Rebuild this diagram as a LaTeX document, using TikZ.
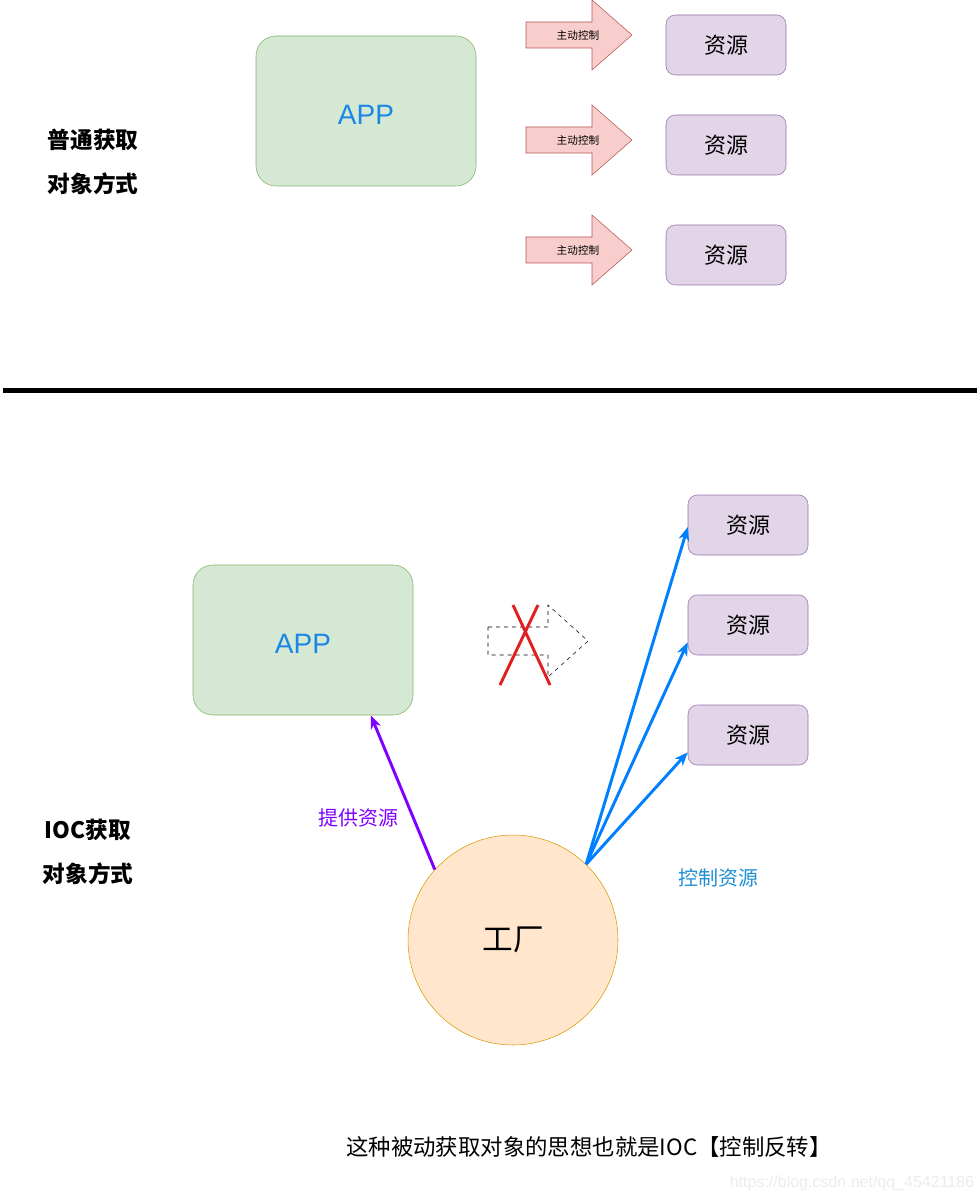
\documentclass[tikz,border=0pt]{standalone}
\usepackage{fontspec}
\setmainfont{Liberation Sans}
\newfontfamily\cjk{Noto Sans CJK SC}
\usetikzlibrary{arrows.meta}
\definecolor{appfill}{HTML}{D5E8D4}
\definecolor{appline}{HTML}{82B366}
\definecolor{resfill}{HTML}{E1D5E7}
\definecolor{resline}{HTML}{9673A6}
\definecolor{arrfill}{HTML}{F8CECC}
\definecolor{arrline}{HTML}{B85450}
\definecolor{facfill}{HTML}{FFE6CC}
\definecolor{facline}{HTML}{D79B00}
\definecolor{appblue}{HTML}{1A86E6}
\definecolor{ctlblue}{HTML}{007FFF}
\definecolor{ctltext}{HTML}{1E8FD6}
\definecolor{givepurple}{HTML}{7F00FF}
\definecolor{crossred}{HTML}{E02020}

\begin{document}
\begin{tikzpicture} [x = 0.75pt, y = -0.75pt,
    appbox/.style = {draw = appline, fill = appfill, rounded corners = 15pt, minimum width = 165pt, minimum height = 112.5pt, text = appblue, text height = 20pt, font = \fontsize{21}{25}\selectfont},
    resbox/.style = {draw = resline, fill = resfill, rounded corners = 7pt, minimum width = 90pt, minimum height = 45pt, font = \cjk\fontsize{16.5}{20}\selectfont},
    sidelabel/.style = {font = \cjk\bfseries\fontsize{17}{33}\selectfont, align = center},
    flow/.style = {line width = 2.2pt, -{Stealth[length = 10pt, width = 8pt, inset = 3pt]}}]
                \useasboundingbox (0,0) rectangle (980,1201);
                % normal way
                \node [sidelabel] (lab1) at (93, 162) {普通获取\\对象方式};
                \node [appbox] (app1) at (366, 111) {APP};
                \foreach \y/\r/\n in {35/45/1, 140/145/2, 250/255/3} {
                    \draw [arrline, fill = arrfill] (526,\y-13) -- (592,\y-13) -- (592,\y-35) -- (632,\y) -- (592,\y+35) -- (592,\y+13) -- (526,\y+13) -- cycle;
                    \node [font = \cjk\fontsize{8}{10}\selectfont] (ctl\n) at (578,\y) {主动控制};
                    \node [resbox] (res\n) at (726,\r) {资源};
                  }
                \draw [line width = 3.75pt] (3,390) -- (977,390);
                % IOC way
                \node [sidelabel] (lab2) at (88, 852) {IOC获取\\对象方式};
                \node [appbox] (app2) at (303, 640) {APP};
                \draw [black, dashed, thin] (488,627) -- (548,627) -- (548,605) -- (588,641) -- (548,677) -- (548,655) -- (488,655) -- cycle;
                \draw [crossred, line width = 2.2pt] (500,685) -- (538,605) (513,605) -- (550,685);
                \foreach \y/\n in {525/4, 625/5, 735/6}
                    \node [resbox] (res\n) at (748,\y) {资源};
                \node [circle, draw = facline, fill = facfill, minimum size = 157.5pt, font = \cjk\fontsize{23}{27}\selectfont] (fac) at (513, 940) {工厂};
                \draw [flow, givepurple] (fac.138) -- (app2.312);
                \node [text = givepurple, font = \cjk\fontsize{15}{18}\selectfont] (give) at (358, 818) {提供资源};
                \draw [flow, ctlblue] (fac.46) -- (res4.182);
                \draw [flow, ctlblue] (fac.46) -- (res5.196);
                \draw [flow, ctlblue] (fac.46) -- (res6.196);
                \node [text = ctltext, font = \cjk\fontsize{15}{18}\selectfont] (ctl) at (718, 878) {控制资源};
                \node [font = \cjk\fontsize{16.8}{20}\selectfont] (note) at (589, 1147) {这种被动获取对象的思想也就是IOC【控制反转】};
                \node [text = black!8, font = \fontsize{12}{14}\selectfont] (mark) at (852, 1183) {https://blog.csdn.net/qq\_45421186};
            \end{tikzpicture}
\end{document}
